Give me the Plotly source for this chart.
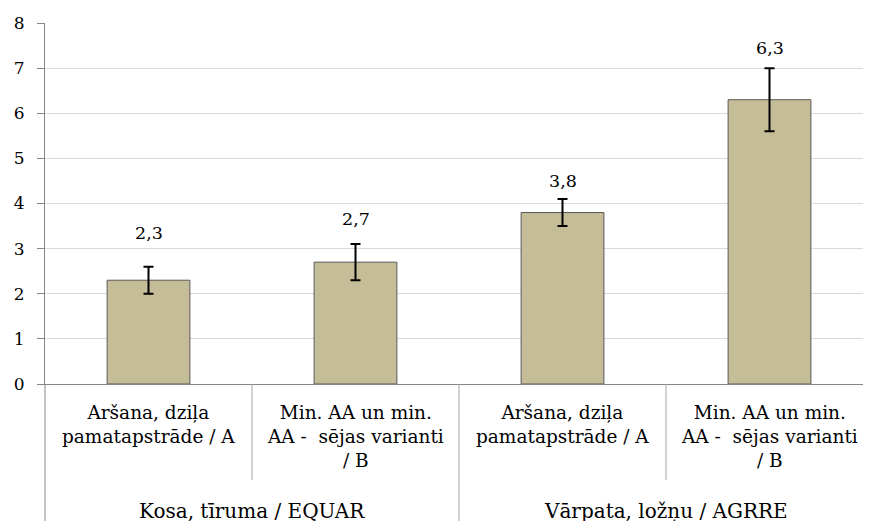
import plotly.graph_objects as go

# ---- data ----
groups = ["Kosa, tīruma / EQUAR", "Vārpata, ložņu / AGRRE"]
subcats = [
    "Aršana, dziļa<br>pamatapstrāde / A",
    "Min. AA un min.<br>AA -\u00a0 sējas varianti<br>/ B",
    "Aršana, dziļa<br>pamatapstrāde / A",
    "Min. AA un min.<br>AA -\u00a0 sējas varianti<br>/ B",
]
values = [2.3, 2.7, 3.8, 6.3]
errors = [0.3, 0.4, 0.3, 0.7]
value_labels = ["2,3", "2,7", "3,8", "6,3"]
y_ticks = [0, 1, 2, 3, 4, 5, 6, 7, 8]

# ---- style / layout settings ----
label_offset_px = [34, 25, 18, 20]   # manual label offsets above error caps
serif = "DejaVu Serif"
xpos = list(range(len(values)))
per_group = len(values) // len(groups)

fig = go.Figure()
fig.add_trace(go.Bar(
    x=xpos, y=values, width=0.40,
    marker=dict(color="#c4bd97", line=dict(color="#595959", width=1)),
    error_y=dict(type="data", array=errors, visible=True,
                 color="#000000", thickness=2, width=5),
    hoverinfo="skip", showlegend=False,
))

annotations = []
for x, v, e, t, off in zip(xpos, values, errors, value_labels, label_offset_px):
    annotations.append(dict(x=x, y=v + e, xref="x", yref="y", text=t,
                            showarrow=False, yanchor="middle", yshift=off,
                            font=dict(family=serif, size=17.5, color="#000")))
for x, t in zip(xpos, subcats):
    annotations.append(dict(x=x, y=-0.044, xref="x", yref="paper", text=t,
                            showarrow=False, yanchor="top",
                            font=dict(family=serif, size=18.5, color="#000")))
for gi, g in enumerate(groups):
    cx = gi * per_group + (per_group - 1) / 2
    annotations.append(dict(x=cx, y=-0.314, xref="x", yref="paper", text=g,
                            showarrow=False, yanchor="top",
                            font=dict(family=serif, size=20, color="#000")))

shapes = []
axis_col = "#868686"
shapes.append(dict(type="line", xref="paper", yref="paper", x0=0, x1=0,
                   y0=0, y1=-0.40, line=dict(color=axis_col, width=1)))
for i in range(1, len(values)):
    is_group = i % per_group == 0
    shapes.append(dict(type="line", xref="x", yref="paper",
                       x0=i - 0.5, x1=i - 0.5, y0=0,
                       y1=-0.40 if is_group else -0.266,
                       line=dict(color="#a6a6a6", width=1)))

fig.update_layout(
    width=865, height=513,
    margin=dict(l=37, r=0, t=15, b=137),
    paper_bgcolor="white", plot_bgcolor="white",
    font=dict(family=serif),
    annotations=annotations, shapes=shapes,
    xaxis=dict(range=[-0.5, len(values) - 0.5], showticklabels=False,
               showgrid=False, zeroline=False, showline=True,
               linecolor=axis_col, linewidth=1, ticks=""),
    yaxis=dict(range=[0, 8], tickvals=y_ticks, showgrid=True,
               gridcolor="#d9d9d9", gridwidth=1, zeroline=False,
               showline=True, linecolor=axis_col, linewidth=1,
               ticks="outside", ticklen=7, tickcolor=axis_col,
               ticklabelstandoff=9,
               tickfont=dict(family=serif, size=17, color="#000")),
)

fig.write_html("out.html")
